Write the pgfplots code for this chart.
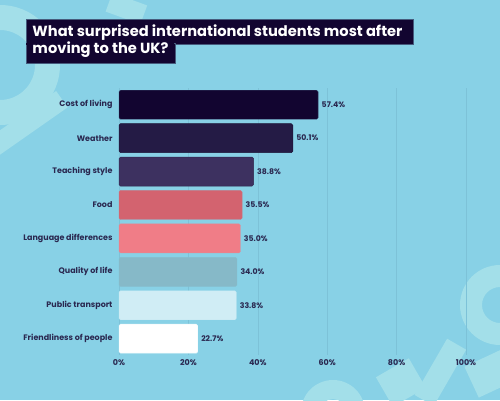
\documentclass[border=0pt]{standalone}
\usepackage{pgfplots}
\pgfplotsset{compat=1.18}
\usepackage{fontspec}
\setmainfont{Poppins}
\definecolor{bgblue}{HTML}{88D1E6}
\definecolor{deco}{HTML}{A3DFE9}
\definecolor{gridc}{HTML}{7DC2D8}
\definecolor{navy}{HTML}{2A2850}
\definecolor{titlebg}{HTML}{120530}
\definecolor{cA}{HTML}{120530}
\definecolor{cB}{HTML}{241B45}
\definecolor{cC}{HTML}{3D3160}
\definecolor{cD}{HTML}{D3636F}
\definecolor{cE}{HTML}{F07D87}
\definecolor{cF}{HTML}{86B9C8}
\definecolor{cG}{HTML}{D0EDF5}
\definecolor{cH}{HTML}{FFFFFF}
\begin{document}
\begin{tikzpicture}[x=1bp,y=1bp]
\path[use as bounding box] (0,0) rectangle (500,400);
\fill[bgblue] (0,0) rectangle (500,400);
\begin{scope}
\clip (0,0) rectangle (500,400);
% decorative shapes (background)
\fill[deco, even odd rule] (0,335) circle (60) (0,335) circle (35);
\fill[deco, rotate around={35:(25,275)}] (-20,265) rectangle (70,285);
\fill[deco, rotate around={-20:(125,392)}] (108,382) rectangle (145,402);
\fill[deco, even odd rule] (500,95) circle (40) (500,95) circle (18);
\fill[deco, even odd rule] (333,-12) circle (32) (333,-12) circle (13);
\fill[deco, rotate around={30:(400,17)}] (382,0) rectangle (420,34);
\fill[deco, rotate around={60:(440,25)}] (410,15) rectangle (475,37);
\fill[deco, rotate around={25:(487,25)}] (470,8) rectangle (510,42);
\end{scope}
% title
\fill[titlebg, draw=navy!70!bgblue, line width=0.4bp] (26,380.7) rectangle (412.7,356);
\fill[titlebg, draw=navy!70!bgblue, line width=0.4bp] (26,356.4) rectangle (174.7,336.7);
\fill[titlebg] (26.3,357) rectangle (174.3,355);
\node[anchor=base west, inner sep=0, text=white, font=\fontsize{14.7}{16}\selectfont\bfseries] at (32.3,364) {What surprised international students most after};
\node[anchor=base west, inner sep=0, text=white, font=\fontsize{14.7}{16}\selectfont\bfseries] at (32.3,347) {moving to the UK?};
\begin{axis}[
  at={(119bp,44.6bp)}, anchor=south west,
  scale only axis, width=347bp, height=267.4bp,
  xmin=0, xmax=100, ymin=-0.5, ymax=7.5, y dir=reverse,
  xbar, bar width=29bp, bar shift=0pt,
  axis line style={draw=none},
  major tick length=0pt,
  xtick={0,20,40,60,80,100},
  xticklabels={0\%,20\%,40\%,60\%,80\%,100\%},
  ytick={0,1,2,3,4,5,6,7},
  yticklabels={Cost of living,Weather,Teaching style,Food,Language differences,Quality of life,Public transport,Friendliness of people},
  xmajorgrids, grid style={gridc, line width=0.6bp},
  tick label style={font=\fontsize{8}{9}\selectfont\bfseries, text=navy},
  yticklabel style={xshift=-3bp},
  xticklabel style={yshift=-1bp},
  point meta=x,
  /pgf/number format/assume math mode=true,
  nodes near coords={\pgfmathprintnumber[fixed,fixed zerofill,precision=1,assume math mode=true]{\pgfplotspointmeta}\%},
  every node near coord/.append style={font=\fontsize{7.8}{9}\selectfont\bfseries, text=navy},
  clip=false,
]
\addplot[fill=cA, draw=cA!70!bgblue, rounded corners=1.5bp] coordinates {(57.4,0)};
\addplot[fill=cB, draw=cB!80!black, rounded corners=1.5bp] coordinates {(50.1,1)};
\addplot[fill=cC, draw=cC!80!black, rounded corners=1.5bp] coordinates {(38.8,2)};
\addplot[fill=cD, draw=cD!85!bgblue, rounded corners=1.5bp] coordinates {(35.5,3)};
\addplot[fill=cE, draw=cE!85!bgblue, rounded corners=1.5bp] coordinates {(35.0,4)};
\addplot[fill=cF, draw=cF!85!bgblue, rounded corners=1.5bp] coordinates {(34.0,5)};
\addplot[fill=cG, draw=cG!85!bgblue, rounded corners=1.5bp] coordinates {(33.8,6)};
\addplot[fill=cH, draw=cH!85!bgblue, rounded corners=1.5bp] coordinates {(22.7,7)};
\end{axis}
\end{tikzpicture}
\end{document}
